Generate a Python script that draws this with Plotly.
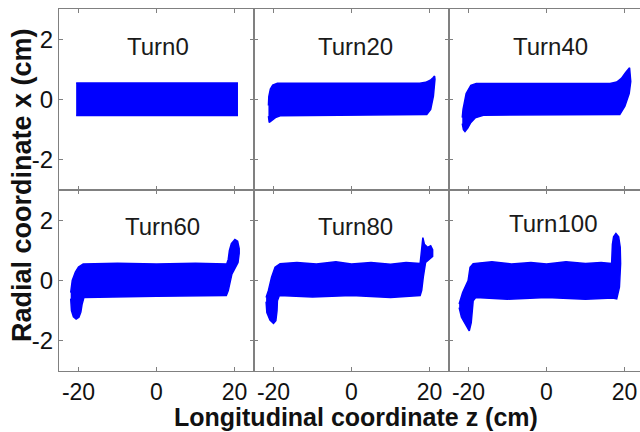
import plotly.graph_objects as go

# ---------------- data ----------------
turn_labels = ["Turn0", "Turn20", "Turn40", "Turn60", "Turn80", "Turn100"]

# upper boundary of each band (left -> right) and lower boundary (left -> right)
t0_up_z = [-20.6, 20.7]
t0_up_y = [0.55, 0.55]
t0_lo_z = [-20.6, 20.7]
t0_lo_y = [-0.53, -0.53]

t20_up_z = [-21.3, -21.2, -20.8, -20.2, -19.0, 17.5, 19.0, 20.2, 20.9, 21.3]
t20_up_y = [-0.2, 0.1, 0.35, 0.48, 0.54, 0.54, 0.57, 0.64, 0.72, 0.78]
t20_lo_z = [-21.3, -21.1, -20.5, -19.5, -18.3, 19.3, 20.3, 21.0, 21.4]
t20_lo_y = [-0.55, -0.76, -0.7, -0.6, -0.54, -0.5, -0.33, 0.11, 0.67]

t40_up_z = [-21.6, -21.4, -20.6, -19.4, -18.0, 16.3, 18.0, 19.2, 20.3, 21.0, 21.3]
t40_up_y = [-0.6, -0.33, 0.2, 0.47, 0.53, 0.53, 0.58, 0.7, 0.9, 1.02, 1.05]
t40_lo_z = [-21.6, -21.3, -20.9, -20.2, -19.5, -18.3, -16.2, 18.8, 20.1, 21.2, 21.6]
t40_lo_y = [-0.8, -1.0, -1.06, -0.95, -0.78, -0.61, -0.52, -0.5, -0.22, 0.2, 0.6]

t60_up_z = [-22.0, -21.6, -20.8, -20.0, -18.8, -10.0, 0.0, 10.0, 18.0, 18.4, 18.7, 19.2, 20.1, 20.8, 21.2]
t60_up_y = [-0.4, 0.0, 0.28, 0.45, 0.55, 0.57, 0.55, 0.57, 0.55, 0.7, 1.0, 1.22, 1.36, 1.3, 1.06]
t60_lo_z = [-22.0, -21.8, -21.3, -20.6, -19.9, -19.4, -19.1, -18.6, 0.0, 17.9, 18.4, 19.3, 20.3, 20.9, 21.2]
t60_lo_y = [-0.6, -1.0, -1.2, -1.28, -1.22, -1.05, -0.8, -0.56, -0.52, -0.5, -0.33, 0.2, 0.45, 0.6, 0.9]

t80_up_z = [-21.9, -21.3, -20.5, -19.6, -18.3, -14.0, -9.0, -4.0, 0.0, 5.0, 10.0, 14.0, 17.6, 17.9, 18.3, 18.7, 19.5, 20.3, 20.8]
t80_up_y = [-0.56, -0.33, 0.11, 0.44, 0.56, 0.6, 0.55, 0.62, 0.55, 0.6, 0.54, 0.6, 0.56, 1.0, 1.42, 1.2, 1.1, 1.15, 1.02]
t80_lo_z = [-21.9, -21.7, -20.9, -20.0, -19.4, -19.1, -19.0, -18.5, -10.0, 0.0, 10.0, 17.6, 18.0, 18.4, 19.0, 20.0, 20.8]
t80_lo_y = [-0.7, -1.06, -1.31, -1.42, -1.33, -1.0, -0.67, -0.5, -0.55, -0.5, -0.56, -0.5, -0.33, 0.11, 0.6, 0.7, 0.8]

t100_up_z = [-22.4, -21.5, -20.1, -19.6, -18.8, -14.0, -9.0, -4.0, 0.0, 5.0, 10.0, 14.0, 16.7, 16.9, 17.2, 17.8, 18.5, 18.9]
t100_up_y = [-0.78, -0.4, 0.0, 0.44, 0.56, 0.62, 0.55, 0.6, 0.55, 0.62, 0.56, 0.6, 0.56, 1.2, 1.45, 1.56, 1.45, 1.1]
t100_lo_z = [-22.4, -21.8, -20.6, -19.8, -19.3, -19.0, -18.8, -18.1, -10.0, 0.0, 10.0, 17.0, 18.0, 18.7, 19.0, 18.9]
t100_lo_y = [-0.9, -1.22, -1.5, -1.67, -1.4, -1.0, -0.67, -0.56, -0.62, -0.56, -0.62, -0.58, -0.61, -0.22, 0.56, 1.1]

bands_up_z = [t0_up_z, t20_up_z, t40_up_z, t60_up_z, t80_up_z, t100_up_z]
bands_up_y = [t0_up_y, t20_up_y, t40_up_y, t60_up_y, t80_up_y, t100_up_y]
bands_lo_z = [t0_lo_z, t20_lo_z, t40_lo_z, t60_lo_z, t80_lo_z, t100_lo_z]
bands_lo_y = [t0_lo_y, t20_lo_y, t40_lo_y, t60_lo_y, t80_lo_y, t100_lo_y]

# panel title anchor positions (data coords)
title_z = [0.5, 1.0, 1.0, 1.5, 1.0, 1.7]
title_x = [1.77, 1.77, 1.77, 1.78, 1.78, 1.9]

x_tickvals = [-20, 0, 20]
x_ticktext = ["-20", "0", "20"]
y_tickvals = [-2, 0, 2]
y_ticktext = ["-2", "0", "2"]

# ---------------- figure ----------------
FONT = "Liberation Sans, Arial, sans-serif"
AX = "#808080"
W, H = 640, 432
ML, MR, MT, MB = 59, 0, 9, 61
pw = W - ML - MR
col_edges = [0, 195 / pw, 390 / pw, 1.0]
row_edges = [(0.5, 1.0), (0.0, 0.5)]
px_per_unit = 3.9

fig = go.Figure()
layout = dict(
    width=W, height=H,
    margin=dict(l=ML, r=MR, t=MT, b=MB, pad=0),
    paper_bgcolor="white", plot_bgcolor="white",
    showlegend=False,
    font=dict(family=FONT, color="#111111"),
)
annotations = []

for i in range(6):
    r, c = divmod(i, 3)
    n = i + 1
    xa = "x" if n == 1 else f"x{n}"
    ya = "y" if n == 1 else f"y{n}"
    zs = list(bands_up_z[i]) + list(reversed(bands_lo_z[i]))
    ys = list(bands_up_y[i]) + list(reversed(bands_lo_y[i]))
    fig.add_trace(go.Scatter(
        x=zs, y=ys, mode="lines", fill="toself",
        fillcolor="#0000ff", line=dict(color="#0000ff", width=1.5),
        xaxis=xa, yaxis=ya, hoverinfo="skip"))
    d0, d1 = col_edges[c], col_edges[c + 1]
    width_px = (d1 - d0) * pw
    xr = [-25, -25 + width_px / px_per_unit]
    layout[f"xaxis{'' if n == 1 else n}"] = dict(
        domain=[d0, d1], range=xr, anchor=ya,
        tickvals=x_tickvals, ticktext=x_ticktext,
        showticklabels=(r == 1), ticks="inside", ticklen=4, tickcolor=AX,
        showline=True, linecolor=AX, linewidth=1, mirror="allticks",
        showgrid=False, zeroline=False,
        tickfont=dict(size=23, family=FONT, color="#111111"),
    )
    layout[f"yaxis{'' if n == 1 else n}"] = dict(
        domain=list(row_edges[r]), range=[-3, 3], anchor=xa,
        tickvals=y_tickvals, ticktext=y_ticktext,
        showticklabels=(c == 0), ticks="inside", ticklen=4, tickcolor=AX,
        showline=True, linecolor=AX, linewidth=1,
        mirror=("allticks" if c < 2 else False),
        showgrid=False, zeroline=False,
        tickfont=dict(size=24, family=FONT, color="#111111"),
    )
    annotations.append(dict(
        x=title_z[i], y=title_x[i], xref=xa, yref=ya,
        text=turn_labels[i], showarrow=False,
        font=dict(size=24, family=FONT, color="#1a1a1a"),
        xanchor="center", yanchor="middle"))

annotations.append(dict(
    x=(356 - ML) / pw, y=(371 - 416.5) / 362, xref="paper", yref="paper",
    text="<b>Longitudinal coordinate z (cm)</b>", showarrow=False,
    font=dict(size=25, family=FONT, color="#111111"),
    xanchor="center", yanchor="middle"))
annotations.append(dict(
    x=(22 - ML) / pw, y=(371 - 185) / 362, xref="paper", yref="paper",
    text="<b>Radial coordinate x (cm)</b>", showarrow=False, textangle=-90,
    font=dict(size=27, family=FONT, color="#111111"),
    xanchor="center", yanchor="middle"))

layout["annotations"] = annotations
fig.update_layout(**layout)
fig.write_html("out.html")
